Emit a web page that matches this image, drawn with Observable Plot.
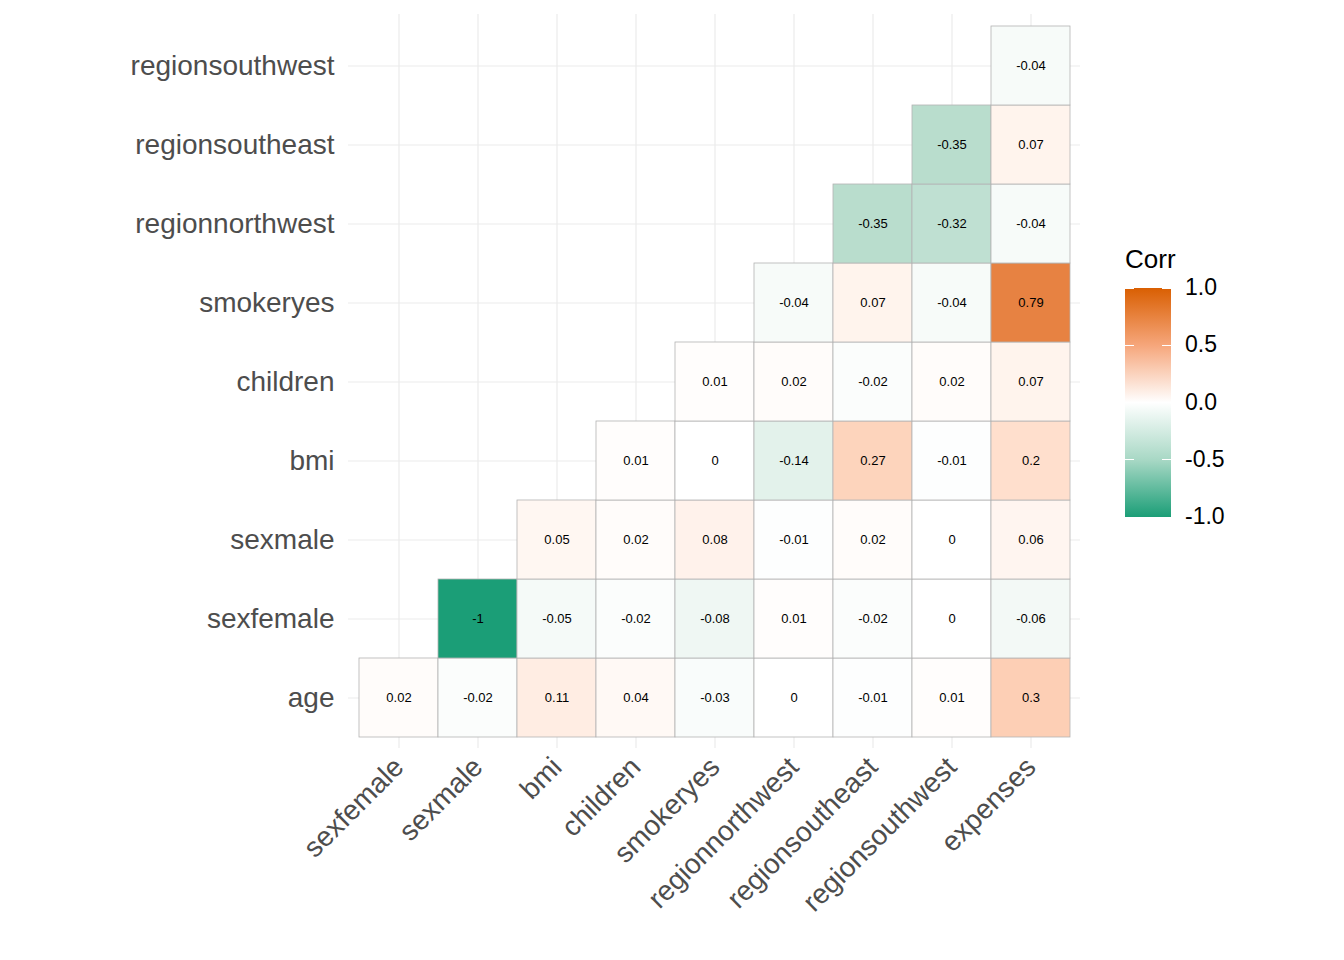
<!DOCTYPE html>
<html><head><meta charset="utf-8">
<script src="https://cdn.jsdelivr.net/npm/d3@7"></script>
<script src="https://cdn.jsdelivr.net/npm/@observablehq/plot@0.6"></script>
<style>
body{margin:0;background:#fff;font-family:Arial,"Liberation Sans",sans-serif}
#wrap{position:relative;width:1344px;height:960px}
#legend{position:absolute;left:1125px;top:244px}
</style></head><body>
<div id="wrap"><div id="chart"></div><div id="legend"></div></div>
<script>
const xVars = ['sexfemale','sexmale','bmi','children','smokeryes','regionnorthwest','regionsoutheast','regionsouthwest','expenses']
const yVars = ['age','sexfemale','sexmale','bmi','children','smokeryes','regionnorthwest','regionsoutheast','regionsouthwest']
// each row starts at column index = row index
const rows = [
  [0.02,-0.02,0.11,0.04,-0.03,0,-0.01,0.01,0.3],
  [-1,-0.05,-0.02,-0.08,0.01,-0.02,0,-0.06],
  [0.05,0.02,0.08,-0.01,0.02,0,0.06],
  [0.01,0,-0.14,0.27,-0.01,0.2],
  [0.01,0.02,-0.02,0.02,0.07],
  [-0.04,0.07,-0.04,0.79],
  [-0.35,-0.32,-0.04],
  [-0.35,0.07],
  [-0.04]
]
const legendTicks = [1.0,0.5,0.0,-0.5,-1.0]
const lowCol = '#1B9E77', midCol = '#FFFFFF', highCol = '#D95F02'

const cells = []
rows.forEach((vals, r) => vals.forEach((v, k) => cells.push({x: xVars[r + k], y: yVars[r], v})))

const chart = Plot.plot({
  width: 1344, height: 960,
  marginLeft: 348, marginRight: 264, marginTop: 14, marginBottom: 212,
  x: {domain: xVars, padding: 0, insetLeft: 7, insetRight: 7, label: null},
  y: {domain: yVars, padding: 0, insetTop: 8, insetBottom: 7, reverse: true, label: null},
  color: {type: 'linear', domain: [-1, 0, 1], range: [lowCol, midCol, highCol], interpolate: 'lab'},
  style: {fontFamily: 'Arial, "Liberation Sans", sans-serif'},
  marks: [
    Plot.gridX({stroke: '#EBEBEB', strokeOpacity: 1, strokeWidth: 1.2}),
    Plot.gridY({stroke: '#EBEBEB', strokeOpacity: 1, strokeWidth: 1.2}),
    Plot.cell(cells, {x: 'x', y: 'y', fill: 'v', stroke: '#B3B3B3', strokeWidth: 0.8}),
    Plot.text(cells, {x: 'x', y: 'y', text: d => String(d.v), fontSize: 13, fill: '#000'}),
    Plot.axisY({tickSize: 0, tickPadding: 14, fontSize: 28, color: '#4D4D4D'}),
    Plot.axisX({tickSize: 0, tickRotate: -45, tickPadding: 14, fontSize: 28, color: '#4D4D4D', textAnchor: 'end'})
  ]
})
d3.select('#chart').append(() => chart)

// legend
const lg = d3.select('#legend')
lg.append('div').text('Corr').style('font-size','26px').style('color','#000').style('height','44px')
const bar = lg.append('div').style('position','relative').style('width','46px').style('height','229px')
  .style('background', `linear-gradient(to bottom, ${highCol}, #F6A67B 25%, ${midCol} 50%, #A8D8C5 75%, ${lowCol})`)
const ls = d3.scaleLinear().domain([1, -1]).range([0, 229])
legendTicks.forEach(t => {
  bar.append('div').style('position','absolute').style('left','0').style('top', (ls(t)-0.5)+'px').style('width','9px').style('height','1px').style('background','#fff')
  bar.append('div').style('position','absolute').style('right','0').style('top', (ls(t)-0.5)+'px').style('width','9px').style('height','1px').style('background','#fff')
  bar.append('div').style('position','absolute').style('left','60px').style('top', (ls(t)-14)+'px')
    .style('font-size','23px').style('color','#000').text(t.toFixed(1))
})
</script></body></html>
